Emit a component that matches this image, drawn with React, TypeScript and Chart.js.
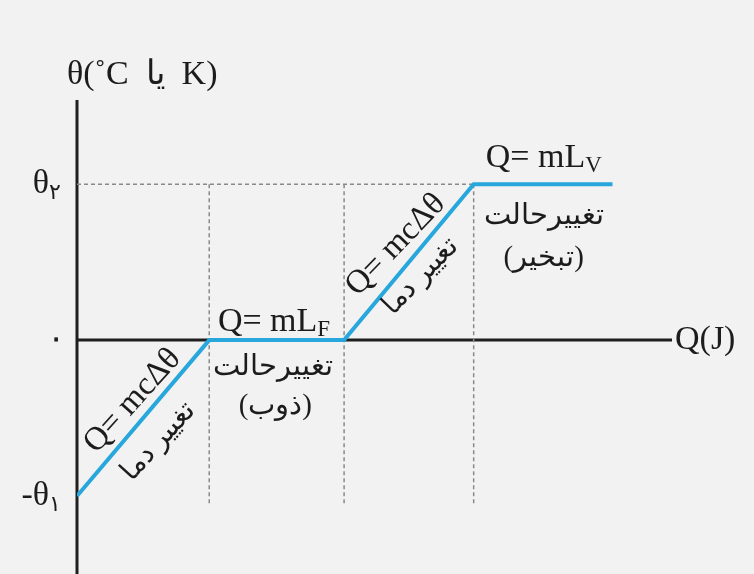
import React, { useEffect, useRef } from "react";
import { Chart, registerables } from "chart.js";

Chart.register(...registerables);

// Heating curve: Q (x) vs θ (y), unitless positions
const curveQ = [0, 1, 2.02, 3, 4.05];
const curveTheta = [-1, 0, 0, 1, 1];

// Dashed guide lines
const guideH_Q = [0, 3];
const guideH_T = [1, 1];
const guideV_Q = [1, 2.02, 3];
const guideV_Top = 1;
const guideV_Bottom = -1.05;

// Axis extents
const xMin = 0;
const xMax = 4.5;
const yMin = -1.5;
const yMax = 1.54;

// Y tick values and labels
const yTickValues = [1, 0, -1];
const yTickMain = ["θ", "۰", "-θ"];
const yTickSub = ["۲", "", "۱"];

const SERIF = '"Liberation Serif", "Times New Roman", "DejaVu Serif", serif';

export default function App() {
  const ref = useRef<HTMLCanvasElement | null>(null);

  useEffect(() => {
    const canvas = ref.current;
    if (!canvas) return;

    const guideDatasets: any[] = [];
    guideDatasets.push({
      data: guideH_Q.map((q, i) => ({ x: q, y: guideH_T[i] })),
      borderColor: "#8a8a8a",
      borderWidth: 1.5,
      borderDash: [4, 3],
      pointRadius: 0,
      order: 3,
    });
    guideV_Q.forEach((q) => {
      guideDatasets.push({
        data: [
          { x: q, y: guideV_Top },
          { x: q, y: guideV_Bottom },
        ],
        borderColor: "#8a8a8a",
        borderWidth: 1.5,
        borderDash: [4, 3],
        pointRadius: 0,
        order: 3,
      });
    });

    const axesPlugin = {
      id: "axesPlugin",
      beforeDatasetsDraw(chart: any) {
        const { ctx, scales } = chart;
        const xs = scales.x;
        const ys = scales.y;
        const x0 = xs.getPixelForValue(0);
        const y0 = ys.getPixelForValue(0);
        ctx.save();
        ctx.strokeStyle = "#1f1f1f";
        ctx.lineWidth = 3;
        ctx.beginPath();
        ctx.moveTo(x0, ys.getPixelForValue(yMax));
        ctx.lineTo(x0, ys.getPixelForValue(yMin));
        ctx.stroke();
        ctx.beginPath();
        ctx.moveTo(x0, y0);
        ctx.lineTo(xs.getPixelForValue(xMax), y0);
        ctx.stroke();
        ctx.restore();
      },
      afterDatasetsDraw(chart: any) {
        const { ctx, scales } = chart;
        const xs = scales.x;
        const ys = scales.y;
        const px = (v: number) => xs.getPixelForValue(v);
        const py = (v: number) => ys.getPixelForValue(v);
        ctx.save();
        ctx.direction = "ltr";
        ctx.fillStyle = "#1c1c1c";

        // y tick labels
        ctx.textBaseline = "middle";
        yTickValues.forEach((v, i) => {
          const yy = py(v);
          ctx.font = `34px ${SERIF}`;
          ctx.textAlign = "right";
          const subW = yTickSub[i] ? 13 : 0;
          const right = px(0) - (yTickSub[i] ? 15 : 12);
          ctx.fillText(yTickMain[i], right - subW, yy);
          if (yTickSub[i]) {
            ctx.font = `22px ${SERIF}`;
            ctx.textAlign = "left";
            ctx.fillText(yTickSub[i], right - subW, yy + 9);
          }
        });

        // axis titles
        ctx.font = `34px ${SERIF}`;
        ctx.textAlign = "left";
        ctx.textBaseline = "middle";
        ctx.fillText("Q(J)", px(xMax) + 3, py(0));
        ctx.fillText("θ(˚C  یا  K)", px(0) - 10, py(yMax) - 25);

        // Q = mL labels
        const drawQmL = (sub: string, cx: number, baseY: number) => {
          ctx.font = `34px ${SERIF}`;
          const main = "Q= mL";
          const w1 = ctx.measureText(main).width;
          ctx.font = `23px ${SERIF}`;
          const w2 = ctx.measureText(sub).width;
          const left = cx - (w1 + w2) / 2;
          ctx.textAlign = "left";
          ctx.textBaseline = "alphabetic";
          ctx.font = `34px ${SERIF}`;
          ctx.fillText(main, left, baseY);
          ctx.font = `23px ${SERIF}`;
          ctx.fillText(sub, left + w1, baseY + 5);
        };
        drawQmL("F", px(1.49), py(0) - 9);
        drawQmL("V", px(3.53), py(1) - 17);

        // Phase change notes
        ctx.textAlign = "center";
        ctx.textBaseline = "middle";
        ctx.font = `29px ${SERIF}`;
        ctx.fillText("تغییرحالت", px(1.48), py(0) + 27);
        ctx.fillText("(ذوب)", px(1.5), py(0) + 66);
        ctx.fillText("تغییرحالت", px(3.53), py(1) + 32);
        ctx.fillText("(تبخیر)", px(3.53), py(1) + 74);

        // rotated slope labels
        const rot = (text: string, x: number, y: number, deg: number, size: number) => {
          ctx.save();
          ctx.translate(x, y);
          ctx.rotate((deg * Math.PI) / 180);
          ctx.font = `${size}px ${SERIF}`;
          ctx.textAlign = "center";
          ctx.textBaseline = "middle";
          ctx.fillText(text, 0, 0);
          ctx.restore();
        };
        rot("Q= mcΔθ", px(0.42), py(-0.39), -48, 33);
        rot("تغییر دما", px(0.62), py(-0.65), -48, 28);
        rot("Q= mcΔθ", px(2.41), py(0.61), -46, 33);
        rot("تغییر دما", px(2.6), py(0.41), -46, 28);

        ctx.restore();
      },
    };

    const chart = new Chart(canvas, {
      type: "line",
      data: {
        datasets: [
          {
            data: curveQ.map((q, i) => ({ x: q, y: curveTheta[i] })),
            borderColor: "#27a7dc",
            borderWidth: 4,
            pointRadius: 0,
            tension: 0,
            borderJoinStyle: "miter",
            order: 1,
          },
          ...guideDatasets,
        ],
      },
      options: {
        animation: false,
        responsive: false,
        maintainAspectRatio: false,
        layout: { padding: { left: 77, right: 82, top: 100, bottom: 0 } },
        plugins: {
          legend: { display: false },
          tooltip: { enabled: false },
        },
        scales: {
          x: { type: "linear", min: xMin, max: xMax, display: false },
          y: { type: "linear", min: yMin, max: yMax, display: false },
        },
      },
      plugins: [axesPlugin],
    });
    return () => chart.destroy();
  }, []);

  return (
    <div
      style={{
        position: "fixed",
        left: 0,
        top: 0,
        width: 754,
        height: 574,
        background: "#f2f2f2",
      }}
    >
      <canvas ref={ref} width={754} height={574} style={{ width: 754, height: 574, display: "block" }} />
    </div>
  );
}
